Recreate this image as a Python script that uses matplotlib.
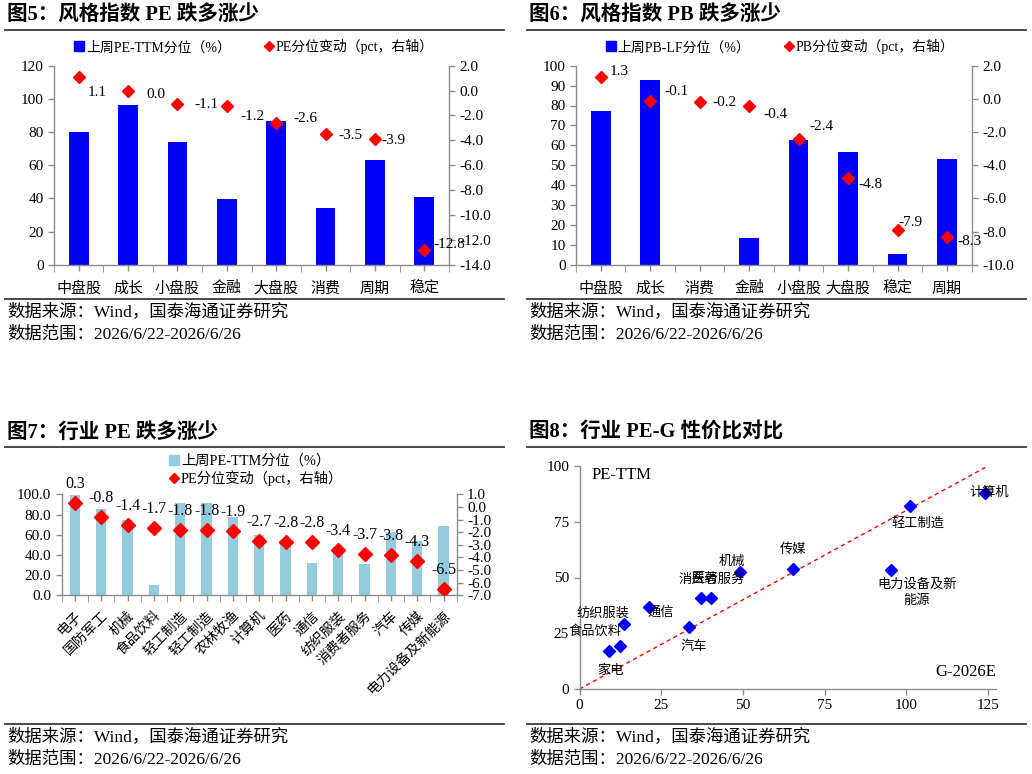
import matplotlib
matplotlib.use("Agg")
import matplotlib.pyplot as plt
from matplotlib.lines import Line2D
import numpy as np

plt.rcParams['font.family'] = ['Liberation Serif', 'Noto Sans CJK SC']
plt.rcParams['axes.unicode_minus'] = False

# ---------------- data ----------------
# Figure 5
pe_style_cats = ['中盘股', '成长', '小盘股', '金融', '大盘股', '消费', '周期', '稳定']
pe_style_pct = [80, 96.5, 74, 39.5, 86.5, 34, 63, 41]
pe_style_chg = [1.1, 0.0, -1.1, -1.2, -2.6, -3.5, -3.9, -12.8]

# Figure 6
pb_style_cats = ['中盘股', '成长', '消费', '金融', '小盘股', '大盘股', '稳定', '周期']
pb_style_pct = [77.2, 93, 0, 13.4, 62.5, 56.6, 5.4, 53.3]
pb_style_chg = [1.3, -0.1, -0.2, -0.4, -2.4, -4.8, -7.9, -8.3]

# Figure 7
ind_cats = ['电子', '国防军工', '机械', '食品饮料', '轻工制造', '轻工制造', '农林牧渔', '计算机',
            '医药', '通信', '纺织服装', '消费者服务', '汽车', '传媒', '电力设备及新能源']
ind_pct = [99, 85, 75, 10, 91.5, 91.5, 77.5, 60, 55, 31.5, 45.5, 30.5, 63, 54, 68.5]
ind_chg = [0.3, -0.8, -1.4, -1.7, -1.8, -1.8, -1.9, -2.7, -2.8, -2.8, -3.4, -3.7, -3.8, -4.3, -6.5]

# Figure 8
peg_names = ['计算机', '轻工制造', '传媒', '电力设备及新\n能源', '机械', '消费者服务', '医药',
             '通信', '汽车', '纺织服装', '食品饮料', '家电']
peg_g = [124.2, 101.2, 65.4, 95.3, 49.2, 37.3, 40.3, 21.4, 33.6, 13.6, 12.4, 8.9]
peg_pe = [88.0, 81.9, 54.0, 53.5, 52.6, 40.7, 40.7, 36.6, 27.8, 29.1, 19.4, 17.2]

source_text = '数据来源：Wind，国泰海通证券研究'
range_text = '数据范围：2026/6/22-2026/6/26'

# ---------------- layout helpers ----------------
W, H = 1032, 774
fig = plt.figure(figsize=(W / 100, H / 100), dpi=100)
fig.patch.set_facecolor('white')

SPINE = '#8c8c8c'
BLUE = '#0000FF'
RED = '#FF0000'
LIGHTBLUE = '#93CDDD'
TITLE_FS = 14.8
SRC_FS = 12.5


def rect(l, t, r, b):
    return [l / W, 1 - b / H, (r - l) / W, (b - t) / H]


def ftext(x, y, s, **kw):
    fig.text(x / W, 1 - y / H, s, **kw)


def hline(x1, x2, y, lw=1.3, color='#3a3a3a'):
    fig.add_artist(Line2D([x1 / W, x2 / W], [1 - y / H, 1 - y / H], color=color, lw=lw))


def style_axes(ax):
    ax.spines['top'].set_visible(False)
    for s in ['left', 'right', 'bottom']:
        ax.spines[s].set_color(SPINE)
        ax.spines[s].set_linewidth(1.0)
    ax.tick_params(colors=SPINE, labelcolor='black', direction='out', length=4, width=1.0)


def bar_panel(rc, cats, pct, chg, lim_l, ticks_l, fmt_l, lim_r, ticks_r, color,
              label_off, rotate=False, ms=6.5, lab_fs=11):
    ax = fig.add_axes(rect(*rc))
    n = len(cats)
    x = np.arange(n)
    ax.bar(x, pct, width=0.4, color=color, zorder=2)
    ax.set_xlim(-0.5, n - 0.5)
    ax.set_ylim(*lim_l)
    ax.set_yticks(ticks_l)
    ax.set_yticklabels([fmt_l.format(v) for v in ticks_l], fontsize=11)
    ax.set_xticks(x)
    if rotate:
        ax.set_xticklabels(cats, rotation=45, ha='right', rotation_mode='anchor', fontsize=10)
        ax.tick_params(axis='x', which='major', length=0, pad=6)
    else:
        ax.set_xticklabels(cats, fontsize=10.8)
        ax.tick_params(axis='x', which='major', length=0, pad=8)
    ax.set_xticks(np.arange(-0.5, n, 1.0), minor=True)
    style_axes(ax)
    ax.tick_params(axis='x', which='minor', length=5, colors=SPINE)
    ax.spines['right'].set_visible(False)
    ax2 = ax.twinx()
    ax2.plot(x, chg, linestyle='none', marker='D', color=RED, markersize=ms, zorder=3)
    ax2.set_ylim(*lim_r)
    ax2.set_yticks(ticks_r)
    ax2.set_yticklabels(['{:.1f}'.format(v) for v in ticks_r], fontsize=11)
    style_axes(ax2)
    ax2.spines['left'].set_visible(False)
    ax2.spines['bottom'].set_visible(False)
    for i, v in enumerate(chg):
        dx, dy = label_off[i]
        ax2.annotate('{:.1f}'.format(v), (x[i], v), xytext=(dx, -dy), textcoords='offset pixels',
                     ha='center', va='center', fontsize=lab_fs, zorder=4)
    return ax, ax2


def legend_at(ax, handles, labels, cx, cy, ncol=2, colsp=3.0, fs=10.0):
    ax.legend(handles, labels, loc='center', bbox_to_anchor=(cx / W, 1 - cy / H),
              bbox_transform=fig.transFigure, ncol=ncol, frameon=False,
              handlelength=0.7, handletextpad=0.15, columnspacing=colsp,
              labelspacing=0.15, prop={'size': fs})


def sq_handle(c):
    return Line2D([], [], linestyle='none', marker='s', color=c, markersize=6.5)


def dia_handle():
    return Line2D([], [], linestyle='none', marker='D', color=RED, markersize=5)


# ---------------- Figure 5 ----------------
ftext(7, 16, '图5：风格指数 PE 跌多涨少', fontsize=TITLE_FS, fontweight='bold', va='center')
hline(5, 504, 30)
off5 = [(18, 16), (28, 4), (29, 0), (26, 11), (29, -4), (25, 1), (19, 1), (25, -5)]
ax, ax2 = bar_panel((54, 65.7, 449, 264.7), pe_style_cats, pe_style_pct, pe_style_chg,
                    (0, 120), list(range(0, 121, 20)), '{:d}', (-14, 2),
                    [2, 0, -2, -4, -6, -8, -10, -12, -14], BLUE, off5)
legend_at(ax, [sq_handle(BLUE), dia_handle()],
          ['上周PE-TTM分位（%）', 'PE分位变动（pct，右轴）'], 254, 46.7, colsp=2.4)
hline(5, 504, 299)
ftext(7, 311.5, source_text, fontsize=SRC_FS, va='center')
ftext(7, 335, range_text, fontsize=SRC_FS, va='center')

# ---------------- Figure 6 ----------------
ftext(529, 16, '图6：风格指数 PB 跌多涨少', fontsize=TITLE_FS, fontweight='bold', va='center')
hline(527, 1026, 30)
off6 = [(18, -6), (26, -9), (25, 0), (26, 9), (23, -12), (22, 6), (13, -7), (22, 5)]
ax, ax2 = bar_panel((576, 65.7, 971.7, 264.7), pb_style_cats, pb_style_pct, pb_style_chg,
                    (0, 100), list(range(0, 101, 10)), '{:d}', (-10, 2),
                    [2, 0, -2, -4, -6, -8, -10], BLUE, off6)
legend_at(ax, [sq_handle(BLUE), dia_handle()],
          ['上周PB-LF分位（%）', 'PB分位变动（pct，右轴）'], 780, 46.7, colsp=2.4)
hline(527, 1026, 299)
ftext(529, 311.5, source_text, fontsize=SRC_FS, va='center')
ftext(529, 335, range_text, fontsize=SRC_FS, va='center')

# ---------------- Figure 7 ----------------
ftext(7, 433, '图7：行业 PE 跌多涨少', fontsize=TITLE_FS, fontweight='bold', va='center')
hline(5, 504, 447)
off7 = [(0, -19)] * len(ind_chg)
ax, ax2 = bar_panel((61.7, 494.3, 456.7, 595.3), ind_cats, ind_pct, ind_chg,
                    (0, 100), list(range(0, 101, 20)), '{:.1f}', (-7, 1),
                    [1, 0, -1, -2, -3, -4, -5, -6, -7], LIGHTBLUE, off7, rotate=True,
                    ms=7, lab_fs=11.5)
legend_at(ax, [sq_handle(LIGHTBLUE), dia_handle()],
          ['上周PE-TTM分位（%）', 'PE分位变动（pct，右轴）'], 256, 470, ncol=1, fs=10.3)
hline(5, 504, 724)
ftext(7, 737, source_text, fontsize=SRC_FS, va='center')
ftext(7, 760, range_text, fontsize=SRC_FS, va='center')

# ---------------- Figure 8 ----------------
ftext(529, 433, '图8：行业 PE-G 性价比对比', fontsize=TITLE_FS, fontweight='bold', va='center')
hline(527, 1026, 447)
ax = fig.add_axes(rect(579.5, 466, 996, 689))
ax.plot([0, 125], [0, 100], linestyle=(0, (3, 2.5)), color=RED, lw=1.0, zorder=1)
ax.plot(peg_g, peg_pe, linestyle='none', marker='D', color=BLUE, markersize=6.5, zorder=3)
ax.set_xlim(0, 127.5)
ax.set_ylim(0, 100)
ax.set_xticks([0, 25, 50, 75, 100, 125])
ax.set_yticks([0, 25, 50, 75, 100])
ax.tick_params(labelsize=11)
style_axes(ax)
ax.spines['right'].set_visible(False)
off8 = [(4, 0), (8, 17), (0, -19), (26, 23), (-8, -10), (10, -19), (-6, -19),
        (11, 5), (5, 20), (-21, -11), (-25, -14), (2, 20)]
for i, name in enumerate(peg_names):
    dx, dy = off8[i]
    ax.annotate(name, (peg_g[i], peg_pe[i]), xytext=(dx, -dy), textcoords='offset pixels',
                ha='center', va='center', fontsize=9.5, zorder=4, linespacing=1.4)
ax.text(0.03, 0.96, 'PE-TTM', transform=ax.transAxes, fontsize=12, va='center', ha='left')
ax.text(1.0, 0.075, 'G-2026E', transform=ax.transAxes, fontsize=12, va='center', ha='right')
hline(527, 1026, 724)
ftext(529, 737, source_text, fontsize=SRC_FS, va='center')
ftext(529, 760, range_text, fontsize=SRC_FS, va='center')

fig.savefig('out.png', dpi=100, facecolor='white')
